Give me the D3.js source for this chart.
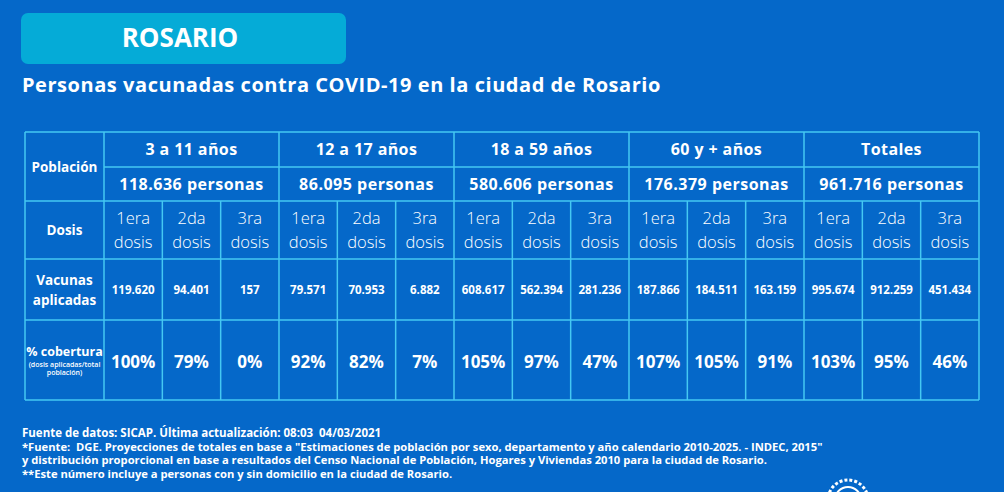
<!DOCTYPE html>
<html><head><meta charset="utf-8">
<script src="https://cdn.jsdelivr.net/npm/d3@7"></script>
<style>
html,body{margin:0;padding:0;background:#0367c9;}
svg{display:block;font-family:"Open Sans",sans-serif;}
text{white-space:pre;}
</style></head><body>
<svg id="c" width="1004" height="492"></svg>
<script>
const groups = ["3 a 11 años","12 a 17 años","18 a 59 años","60 y + años","Totales"];
const population = ["118.636 personas","86.095 personas","580.606 personas","176.379 personas","961.716 personas"];
const doses = ["1era","2da","3ra"];
const applied = ["119.620","94.401","157","79.571","70.953","6.882","608.617","562.394","281.236","187.866","184.511","163.159","995.674","912.259","451.434"];
const coverage = ["100%","79%","0%","92%","82%","7%","105%","97%","47%","107%","105%","91%","103%","95%","46%"];
const rowLabels = ["Población","Dosis","Vacunas aplicadas","% cobertura"];
const footer = [
 "Fuente de datos: SICAP. Última actualización: 08:03  04/03/2021",
 "*Fuente:  DGE. Proyecciones de totales en base a \"Estimaciones de población por sexo, departamento y año calendario 2010-2025. - INDEC, 2015\"",
 "y distribución proporcional en base a resultados del Censo Nacional de Población, Hogares y Viviendas 2010 para la ciudad de Rosario.",
 "**Este número incluye a personas con y sin domicilio en la ciudad de Rosario."
];

const svg = d3.select("#c");
const W=1004,H=492;
const BG="#0568c9", LINE="#45c8f2", WHITE="#ffffff";
svg.append("rect").attr("width",W).attr("height",H).attr("fill",BG);

// banner
svg.append("rect").attr("x",21).attr("y",13).attr("width",325).attr("height",51).attr("rx",7).attr("fill","#05abd7");
svg.append("text").attr("x",180).attr("y",47).attr("text-anchor","middle").attr("fill",WHITE)
  .attr("font-size",26).attr("font-weight",700).text("ROSARIO");
svg.append("text").attr("x",22).attr("y",92).attr("fill",WHITE).attr("font-size",20).attr("font-weight",700)
  .attr("letter-spacing",0.55).text("Personas vacunadas contra COVID-19 en la ciudad de Rosario");

// table geometry via scales
const cols = d3.range(15);
const x = d3.scaleBand().domain(cols).range([104,979]);
const labelX0 = 25;
const rowEdges = [132,167,201,259,320,400];
const y = d3.scaleOrdinal().domain(["g","p","d","v","c","end"]).range(rowEdges);

const g = svg.append("g");
groups.forEach((name,i)=>{
  const x0 = x(i*3), x1 = x(i*3+2)+x.bandwidth();
  g.append("text").attr("x",(x0+x1)/2).attr("y",(y("g")+y("p"))/2+5).attr("text-anchor","middle")
   .attr("fill",WHITE).attr("font-size",16).attr("font-weight",700).attr("letter-spacing",0.4).text(name);
  g.append("text").attr("x",(x0+x1)/2).attr("y",(y("p")+y("d"))/2+6).attr("text-anchor","middle")
   .attr("fill",WHITE).attr("font-size",16).attr("font-weight",700).attr("letter-spacing",0.5).text(population[i]);
});
cols.forEach(c=>{
  const cx = x(c)+x.bandwidth()/2;
  const t = g.append("text").attr("text-anchor","middle").attr("fill",WHITE).attr("font-size",16.5).attr("font-weight",300);
  t.append("tspan").attr("x",cx).attr("y",y("d")+23).text(doses[c%3]);
  t.append("tspan").attr("x",cx).attr("y",y("d")+47).text("dosis");
  g.append("text").attr("x",cx).attr("y",(y("v")+y("c"))/2+4).attr("text-anchor","middle").attr("fill",WHITE)
   .attr("font-size",11.5).attr("font-weight",700).text(applied[c]);
  g.append("text").attr("x",cx).attr("y",(y("c")+y("end"))/2+8).attr("text-anchor","middle").attr("fill",WHITE)
   .attr("font-size",17).attr("font-weight",700).text(coverage[c]);
});
const lx = (labelX0+x(0))/2;
g.append("text").attr("x",lx).attr("y",(y("g")+y("d"))/2+5).attr("text-anchor","middle").attr("fill",WHITE)
  .attr("font-size",13.5).attr("font-weight",700).text(rowLabels[0]);
g.append("text").attr("x",lx).attr("y",(y("d")+y("v"))/2+5).attr("text-anchor","middle").attr("fill",WHITE)
  .attr("font-size",13.5).attr("font-weight",700).text(rowLabels[1]);
const va = g.append("text").attr("text-anchor","middle").attr("fill",WHITE).attr("font-size",13.5).attr("font-weight",700);
va.append("tspan").attr("x",lx).attr("y",(y("v")+y("c"))/2-5).text("Vacunas");
va.append("tspan").attr("x",lx).attr("y",(y("v")+y("c"))/2+15).text("aplicadas");
g.append("text").attr("x",lx).attr("y",(y("c")+y("end"))/2-4).attr("text-anchor","middle").attr("fill",WHITE)
  .attr("font-size",12.5).attr("font-weight",700).text(rowLabels[3]);
const sub = g.append("text").attr("text-anchor","middle").attr("fill",WHITE).attr("font-size",7).attr("font-weight",600);
sub.append("tspan").attr("x",lx).attr("y",(y("c")+y("end"))/2+7).text("(dosis aplicadas/total");
sub.append("tspan").attr("x",lx).attr("y",(y("c")+y("end"))/2+15).text("población)");

// grid lines
const lines = svg.append("g").attr("stroke",LINE).attr("stroke-width",1.5).attr("fill","none");
[["g",labelX0],["p",x(0)],["d",labelX0],["v",labelX0],["c",labelX0],["end",labelX0]].forEach(([r,x0])=>{
  lines.append("line").attr("x1",x0).attr("x2",979).attr("y1",y(r)).attr("y2",y(r));
});
lines.append("line").attr("x1",labelX0).attr("x2",labelX0).attr("y1",y("g")).attr("y2",y("end"));
cols.forEach(c=>{
  const xx = x(c);
  const top = (c%3===0) ? y("g") : y("d");
  lines.append("line").attr("x1",xx).attr("x2",xx).attr("y1",top).attr("y2",y("end"));
});
lines.append("line").attr("x1",979).attr("x2",979).attr("y1",y("g")).attr("y2",y("end"));

// footer
footer.forEach((t,i)=>{
  svg.append("text").attr("x",22).attr("y",437+i*13.5).attr("fill",WHITE)
   .attr("font-size",i===0?11.5:11.2).attr("font-weight",700).text(t);
});
// logo (partially visible emblem)
const lg = svg.append("g").attr("transform","translate(848,500)");
lg.append("circle").attr("r",20).attr("fill","none").attr("stroke",WHITE).attr("stroke-width",3).attr("stroke-dasharray","3 2");
lg.append("circle").attr("r",13).attr("fill","none").attr("stroke",WHITE).attr("stroke-width",2);
</script></body></html>
